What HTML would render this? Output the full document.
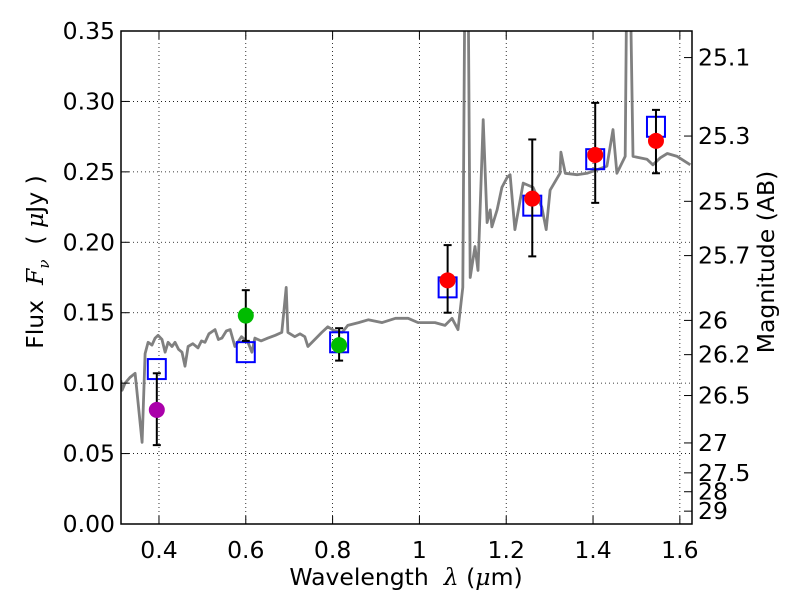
<!DOCTYPE html>
<html><head><meta charset="utf-8"><style>
html,body{margin:0;padding:0;background:#fff;}
svg{display:block;font-family:"DejaVu Sans","Liberation Sans",sans-serif;}
</style></head><body>
<svg id="chart" width="800" height="600" xmlns="http://www.w3.org/2000/svg"></svg>
<script>
// ---- data ----
const specLam = [0.312,0.315,0.322,0.333,0.345,0.352,0.361,0.368,0.375,0.384,0.391,0.398,0.407,0.414,0.421,0.430,0.437,0.445,0.453,0.460,0.467,0.478,0.490,0.498,0.506,0.515,0.529,0.537,0.545,0.555,0.564,0.575,0.590,0.605,0.614,0.621,0.635,0.651,0.668,0.683,0.693,0.697,0.713,0.725,0.736,0.743,0.759,0.775,0.789,0.805,0.822,0.835,0.860,0.882,0.914,0.945,0.974,0.997,1.036,1.059,1.075,1.089,1.100,1.105,1.112,1.117,1.128,1.135,1.147,1.156,1.163,1.167,1.179,1.190,1.202,1.209,1.220,1.239,1.262,1.282,1.292,1.301,1.324,1.326,1.336,1.363,1.386,1.432,1.446,1.455,1.474,1.478,1.485,1.492,1.524,1.538,1.555,1.571,1.594,1.624];
const specFlux = [0.102,0.095,0.100,0.104,0.107,0.086,0.058,0.121,0.129,0.127,0.132,0.134,0.131,0.122,0.129,0.126,0.129,0.124,0.122,0.112,0.126,0.128,0.125,0.130,0.129,0.135,0.138,0.131,0.132,0.137,0.138,0.126,0.133,0.129,0.122,0.132,0.130,0.132,0.134,0.136,0.168,0.136,0.133,0.135,0.133,0.126,0.131,0.136,0.140,0.137,0.136,0.141,0.143,0.145,0.143,0.146,0.146,0.143,0.143,0.141,0.146,0.138,0.168,0.40,0.40,0.175,0.197,0.180,0.287,0.214,0.223,0.211,0.223,0.239,0.246,0.248,0.209,0.242,0.239,0.225,0.209,0.237,0.249,0.264,0.249,0.248,0.249,0.254,0.280,0.249,0.261,0.40,0.40,0.261,0.259,0.255,0.260,0.263,0.261,0.255];
const obsLam = [0.395,0.600,0.815,1.065,1.260,1.405,1.545];
const obsFlux = [0.081,0.148,0.127,0.173,0.231,0.262,0.272];
const obsErrLo = [0.056,0.130,0.116,0.150,0.190,0.228,0.249];
const obsErrHi = [0.107,0.166,0.139,0.198,0.273,0.299,0.294];
const obsColor = ["#aa00aa","#00bb00","#00bb00","#ff0000","#ff0000","#ff0000","#ff0000"];
const modelFlux = [0.110,0.122,0.129,0.168,0.226,0.259,0.282];
const xTicks = [0.4,0.6,0.8,1.0,1.2,1.4,1.6];
const xTickLabels = ["0.4","0.6","0.8","1","1.2","1.4","1.6"];
const yTicks = [0,0.05,0.10,0.15,0.20,0.25,0.30,0.35];
const yTickLabels = ["0.00","0.05","0.10","0.15","0.20","0.25","0.30","0.35"];
const magTicks = [25.1,25.3,25.5,25.7,26,26.2,26.5,27,27.5,28,29];
const magTickLabels = ["25.1","25.3","25.5","25.7","26","26.2","26.5","27","27.5","28","29"];

// ---- axes ----
const L=121,R=692,T=31,B=524, X0=0.3125, X1=1.628, Y0=0, Y1=0.35;
const xs = v => L + (v-X0)/(X1-X0)*(R-L);
const ys = v => B - (v-Y0)/(Y1-Y0)*(B-T);
const magToFlux = m => Math.pow(10,(23.9-m)/2.5);
const NS="http://www.w3.org/2000/svg";
const svg=document.getElementById('chart');
function mk(tag,attrs,parent){const e=document.createElementNS(NS,tag);for(const k in attrs)e.setAttribute(k,attrs[k]);(parent||svg).appendChild(e);return e;}

const defs=mk('defs',{});
const cp=mk('clipPath',{id:'plotclip'},defs);
mk('rect',{x:L,y:T,width:R-L,height:B-T},cp);

const grid=mk('g',{});


xTicks.forEach(v=>{mk('line',{x1:xs(v),x2:xs(v),y1:T,y2:B,stroke:'#000','stroke-width':0.8,'stroke-dasharray':'1,3'},grid);});
yTicks.forEach(v=>{mk('line',{x1:L,x2:R,y1:ys(v),y2:ys(v),stroke:'#000','stroke-width':0.8,'stroke-dasharray':'1,3'},grid);});

let d='';
specLam.forEach((l,i)=>{d+=(i?'L':'M')+xs(l).toFixed(1)+','+ys(specFlux[i]).toFixed(1);});
const spec=mk('path',{d:d,fill:'none',stroke:'#808080','stroke-width':2.8,'stroke-linejoin':'round','clip-path':'url(#plotclip)'});



obsLam.forEach((l,i)=>{
  const s=mk('rect',{x:xs(l)-9,y:ys(modelFlux[i])-10,width:18,height:20,fill:'none',stroke:'#0000ff','stroke-width':2});
  
  
});
obsLam.forEach((l,i)=>{
  const g=mk('g',{stroke:'#000','stroke-width':2});
  
  
  const x=xs(l);
  mk('line',{x1:x,x2:x,y1:ys(obsErrLo[i]),y2:ys(obsErrHi[i])},g);
  mk('line',{x1:x-4,x2:x+4,y1:ys(obsErrLo[i]),y2:ys(obsErrLo[i])},g);
  mk('line',{x1:x-4,x2:x+4,y1:ys(obsErrHi[i]),y2:ys(obsErrHi[i])},g);
});
obsLam.forEach((l,i)=>{
  const c=mk('circle',{cx:xs(l),cy:ys(obsFlux[i]),r:8,fill:obsColor[i]});
  
  
});

const fr=mk('rect',{x:L,y:T,width:R-L,height:B-T,fill:'none',stroke:'#000','stroke-width':1.5});



const tk=mk('g',{stroke:'#000','stroke-width':1});


xTicks.forEach((v,i)=>{
  mk('line',{x1:xs(v),x2:xs(v),y1:B,y2:B-8},tk);
  mk('line',{x1:xs(v),x2:xs(v),y1:T,y2:T+8},tk);
  const t=mk('text',{x:xs(v),y:B+34,'text-anchor':'middle','font-size':23.5,fill:'#000'});
  
  
  t.textContent=xTickLabels[i];
});
yTicks.forEach((v,i)=>{
  mk('line',{x1:L,x2:L+8,y1:ys(v),y2:ys(v)},tk);
  const t=mk('text',{x:L-6,y:ys(v)+8,'text-anchor':'end','font-size':23.5,fill:'#000'});
  
  
  t.textContent=yTickLabels[i];
});
magTicks.forEach((m,i)=>{
  const y=ys(magToFlux(m));
  mk('line',{x1:R,x2:R-8,y1:y,y2:y},tk);
  const t=mk('text',{x:R+6,y:y+8,'font-size':23.5,fill:'#000'});
  
  
  t.textContent=magTickLabels[i];
});
</script>
<div style="position:absolute;left:0;top:563px;width:812px;text-align:center;font:23.5px 'DejaVu Sans','Liberation Sans',sans-serif;">Wavelength &nbsp;<i style="font-family:'DejaVu Serif',serif">λ</i> (<i style="font-family:'DejaVu Serif',serif">μ</i>m)</div>
<div style="position:absolute;left:37px;top:262px;transform:translate(-50%,-50%) rotate(-90deg);white-space:nowrap;font:23.5px 'DejaVu Sans','Liberation Sans',sans-serif;">Flux &nbsp;<i style="font-family:'DejaVu Serif',serif">F<sub style="font-size:15px">ν</sub></i> &nbsp;( <i style="font-family:'DejaVu Serif',serif">μ</i>Jy )</div>
<div style="position:absolute;left:766px;top:262px;transform:translate(-50%,-50%) rotate(-90deg);white-space:nowrap;font:23.5px 'DejaVu Sans','Liberation Sans',sans-serif;">Magnitude (AB)</div>
</body></html>
